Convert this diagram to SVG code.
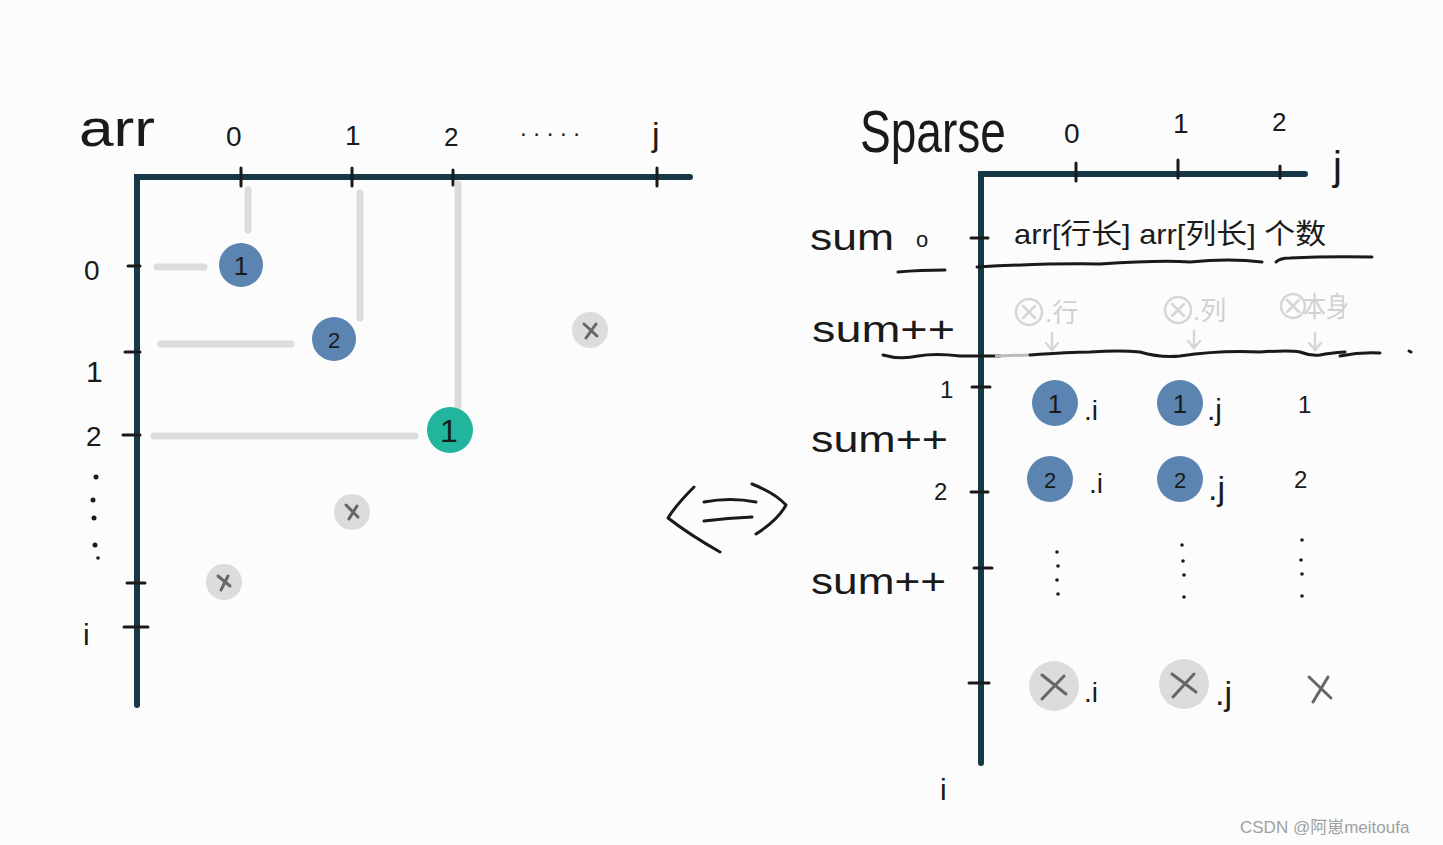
<svg xmlns="http://www.w3.org/2000/svg" width="1443" height="845" viewBox="0 0 1443 845">
<style>
.axis{stroke:#173847;stroke-width:6;stroke-linecap:round;fill:none}
.tick{stroke:#1a1a1a;stroke-width:3;stroke-linecap:round;fill:none}
.guide{stroke:#dcdcdc;stroke-width:7;stroke-linecap:round;fill:none}
.ink{stroke:#1a1a1a;stroke-width:3;stroke-linecap:round;stroke-linejoin:round;fill:none}
.t{font-family:"Liberation Sans","Noto Sans CJK SC",sans-serif;fill:#1a1a1a}
.g{font-family:"Liberation Sans","Noto Sans CJK SC",sans-serif;fill:#d0d0d0}
.blue{fill:#5b84b1}
.green{fill:#21b59d}
.xc{fill:#dcdcdc}
.xm{stroke:#666;stroke-width:3;stroke-linecap:round;fill:none}
.ga{stroke:#d6d6d6;stroke-width:2.5;stroke-linecap:round;fill:none}
</style>
<rect width="1443" height="845" fill="#fcfcfc"/>

<g id="left-axes">
<path class="axis" d="M137,705 L137,177 L690,177"/>
<path class="tick" d="M241,168 V186 M352,168 V186 M453,170 V185 M657,168 V186"/>
<path class="tick" d="M128,266 H140 M125,352 H140 M123,435 H140 M127,583 H145 M124,627 H148"/>
<text class="t" x="79" y="146" font-size="52" textLength="76" lengthAdjust="spacingAndGlyphs">arr</text>
<text class="t" x="226" y="146" font-size="28">0</text>
<text class="t" x="345" y="145" font-size="28">1</text>
<text class="t" x="444" y="146" font-size="26">2</text>
<text class="t" x="520" y="136" font-size="24" textLength="60">.....</text>
<text class="t" x="652" y="146" font-size="34">j</text>
<text class="t" x="84" y="280" font-size="28">0</text>
<text class="t" x="86" y="382" font-size="30">1</text>
<text class="t" x="86" y="446" font-size="28">2</text>
<g fill="#1a1a1a"><circle cx="96" cy="477" r="2.5"/><circle cx="93" cy="500" r="2.5"/><circle cx="94" cy="518" r="2.5"/><circle cx="95" cy="545" r="2.5"/><circle cx="98" cy="558" r="1.8"/></g>
<text class="t" x="83" y="645" font-size="30">i</text>
</g>

<g id="connectors">
<path class="guide" d="M248,190 V230 M157,267 H204"/>
<path class="guide" d="M360,193 V318 M161,344 H291"/>
<path class="guide" d="M458,184 V408 M154,436 H415"/>
</g>

<g id="node-a1"><circle class="blue" cx="241" cy="265" r="22"/><text class="t" x="241" y="275" font-size="26" text-anchor="middle">1</text></g>
<g id="node-a2"><circle class="blue" cx="334" cy="339" r="22"/><text class="t" x="334" y="348" font-size="22" text-anchor="middle">2</text></g>
<g id="node-a3"><circle class="green" cx="450" cy="430" r="23"/><text class="t" x="449" y="442" font-size="32" text-anchor="middle">1</text></g>
<g id="node-x1"><circle class="xc" cx="590" cy="330" r="18"/><path class="xm" d="M584,324 L597,336 M596,324 L586,338"/></g>
<g id="node-x2"><circle class="xc" cx="352" cy="512" r="18"/><path class="xm" d="M346,505 L358,517 M357,506 L349,519"/></g>
<g id="node-x3"><circle class="xc" cx="224" cy="582" r="18"/><path class="xm" d="M218,576 L230,586 M228,576 L221,590"/></g>

<g id="equiv-arrow">
<path class="ink" d="M694,487 Q676,505 668,518 Q690,535 720,552"/>
<path class="ink" d="M752,484 Q775,493 786,505 Q778,520 756,534"/>
<path class="ink" d="M704,502 Q730,497 756,502"/>
<path class="ink" d="M704,521 Q728,518 752,517"/>
</g>

<g id="right-axes">
<path class="axis" d="M981,763 L981,174 L1305,174"/>
<path class="tick" d="M1076,163 V181 M1178,160 V178 M1280,166 V178"/>
<path class="tick" d="M971,238 H988 M972,387 H990 M971,492 H988 M974,568 H992 M969,683 H989"/>
<text class="t" x="860" y="152" font-size="60" textLength="146" lengthAdjust="spacingAndGlyphs">Sparse</text>
<text class="t" x="1064" y="143" font-size="28">0</text>
<text class="t" x="1173" y="133" font-size="28">1</text>
<text class="t" x="1272" y="131" font-size="26">2</text>
<text class="t" x="1333" y="180" font-size="40">j</text>
<text class="t" x="940" y="800" font-size="30">i</text>
<text class="t" x="940" y="398" font-size="24">1</text>
<text class="t" x="934" y="500" font-size="24">2</text>
</g>

<g id="header">
<text class="t" x="810" y="250" font-size="36" textLength="84" lengthAdjust="spacingAndGlyphs">sum</text>
<text class="t" x="916" y="247" font-size="22">o</text>
<text class="t" x="1014" y="244" font-size="28" textLength="312" lengthAdjust="spacingAndGlyphs">arr[行长] arr[列长] 个数</text>
<path class="ink" d="M898,272 Q920,270 945,270"/>
<path class="ink" d="M977,267 Q1050,263 1100,264 Q1160,260 1190,262 Q1230,258 1262,262"/>
<path class="ink" d="M1276,262 Q1280,258 1290,258 Q1330,256 1372,257"/>
</g>

<g id="meta-row">
<text class="t" x="812" y="342" font-size="36" textLength="143" lengthAdjust="spacingAndGlyphs">sum++</text>
<g>
<circle cx="1029" cy="312" r="13" fill="none" stroke="#d6d6d6" stroke-width="2.5"/><path class="ga" d="M1023,306 L1035,318 M1035,306 L1023,318"/>
<text class="g" x="1045" y="322" font-size="26">.行</text>
<circle cx="1178" cy="310" r="13" fill="none" stroke="#d6d6d6" stroke-width="2.5"/><path class="ga" d="M1172,304 L1184,316 M1184,304 L1172,316"/>
<text class="g" x="1193" y="320" font-size="26">.列</text>
<circle cx="1293" cy="306" r="12" fill="none" stroke="#d6d6d6" stroke-width="2.5"/><path class="ga" d="M1287,300 L1299,312 M1299,300 L1287,312"/>
<text class="g" x="1303" y="317" font-size="28" textLength="46" lengthAdjust="spacingAndGlyphs">本身</text>
<path class="ga" d="M1052,333 V350 M1046,343 L1052,350 L1058,343"/>
<path class="ga" d="M1194,331 V348 M1188,341 L1194,348 L1200,341"/>
<path class="ga" d="M1315,333 V350 M1309,343 L1315,350 L1321,343"/>
</g>
<path class="ink" d="M883,355 Q900,360 918,356 Q935,353 960,356 Q990,356 1000,356"/>
<path d="M995,356 L1030,355" stroke="#bbb" stroke-width="3" fill="none"/>
<path class="ink" d="M1030,355 Q1070,352 1090,352 Q1120,350 1140,352 Q1160,358 1180,356 Q1220,350 1260,352 Q1290,350 1300,352 Q1310,356 1320,355 Q1330,353 1345,352"/>
<path class="ink" d="M1340,356 Q1360,352 1380,353"/>
<path class="ink" d="M1409,351 L1411,352"/>
</g>

<g id="row1">
<text class="t" x="811" y="452" font-size="36" textLength="137" lengthAdjust="spacingAndGlyphs">sum++</text>
<circle class="blue" cx="1055" cy="403" r="23"/><text class="t" x="1055" y="413" font-size="26" text-anchor="middle">1</text>
<text class="t" x="1084" y="420" font-size="28">.i</text>
<circle class="blue" cx="1180" cy="403" r="23"/><text class="t" x="1180" y="413" font-size="26" text-anchor="middle">1</text>
<text class="t" x="1207" y="420" font-size="30">.j</text>
<text class="t" x="1298" y="413" font-size="24">1</text>
</g>

<g id="row2">
<circle class="blue" cx="1050" cy="479" r="23"/><text class="t" x="1050" y="488" font-size="22" text-anchor="middle">2</text>
<text class="t" x="1089" y="493" font-size="28">.i</text>
<circle class="blue" cx="1180" cy="479" r="23"/><text class="t" x="1180" y="488" font-size="22" text-anchor="middle">2</text>
<text class="t" x="1208" y="500" font-size="34">.j</text>
<text class="t" x="1294" y="488" font-size="24">2</text>
</g>

<g id="row-dots">
<text class="t" x="811" y="594" font-size="36" textLength="135" lengthAdjust="spacingAndGlyphs">sum++</text>
<g fill="#1a1a1a">
<circle cx="1057" cy="552" r="1.8"/><circle cx="1058" cy="566" r="1.8"/><circle cx="1057" cy="580" r="1.8"/><circle cx="1058" cy="594" r="1.8"/>
<circle cx="1182" cy="545" r="1.8"/><circle cx="1183" cy="561" r="1.8"/><circle cx="1184" cy="575" r="1.8"/><circle cx="1184" cy="597" r="1.8"/>
<circle cx="1302" cy="540" r="1.8"/><circle cx="1301" cy="560" r="1.8"/><circle cx="1302" cy="574" r="1.8"/><circle cx="1302" cy="596" r="1.8"/>
</g>
</g>

<g id="row-last">
<circle class="xc" cx="1054" cy="686" r="25"/><path class="xm" d="M1042,675 L1066,694 M1064,676 L1042,699"/>
<text class="t" x="1084" y="702" font-size="28">.i</text>
<circle class="xc" cx="1184" cy="684" r="25"/><path class="xm" d="M1172,674 L1196,692 M1194,674 L1173,697"/>
<text class="t" x="1215" y="705" font-size="34">.j</text>
<path class="xm" d="M1309,677 L1331,698 M1328,677 L1313,702"/>
</g>

<text x="1240" y="833" font-family="Liberation Sans,Noto Sans CJK SC,sans-serif" font-size="17" fill="#a0a0a0">CSDN @阿崽meitoufa</text>
</svg>
